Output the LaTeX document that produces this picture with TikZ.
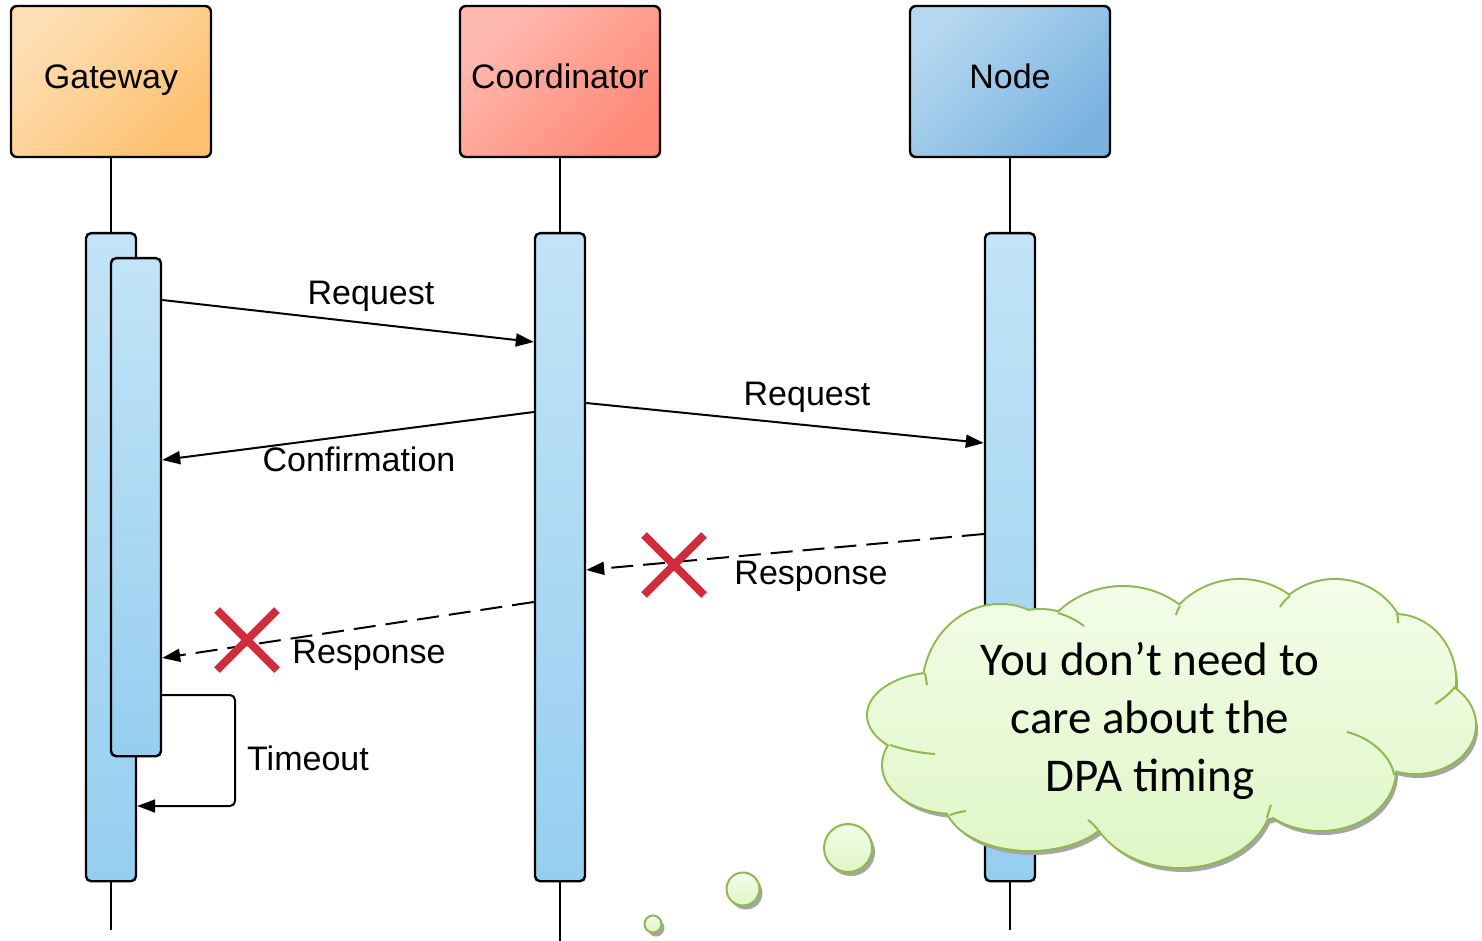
\documentclass[tikz,border=0pt]{standalone}
\usepackage{fontspec}
\setmainfont{Liberation Sans}
\newfontfamily\cloudfont{Carlito}
\usetikzlibrary{arrows.meta,shadows}

\definecolor{gwLight}{RGB}{254,223,180}
\definecolor{gwDark}{RGB}{253,192,112}
\definecolor{coLight}{RGB}{255,186,176}
\definecolor{coDark}{RGB}{255,137,120}
\definecolor{ndLight}{RGB}{182,215,240}
\definecolor{ndDark}{RGB}{122,179,224}
\definecolor{barTop}{RGB}{194,228,246}
\definecolor{barBot}{RGB}{150,206,240}
\definecolor{crossRed}{RGB}{208,44,62}
\definecolor{cloudLine}{RGB}{140,186,76}
\definecolor{cloudTop}{RGB}{244,253,234}
\definecolor{cloudBot}{RGB}{222,246,196}
\definecolor{cloudShadow}{RGB}{165,165,165}

% union of bumps forming the thought cloud
\def\cloudpath{
  (1000,690) ellipse [x radius=77,y radius=85]
  (1040,680) ellipse [x radius=70,y radius=70]
  (1123,681) ellipse [x radius=94,y radius=94]
  (1240,664) ellipse [x radius=84,y radius=84]
  (1335,650) ellipse [x radius=72,y radius=70]
  (1395,680) ellipse [x radius=60,y radius=65]
  (1415,725) ellipse [x radius=60,y radius=48]
  (1320,770) ellipse [x radius=75,y radius=60]
  (1180,795) ellipse [x radius=92,y radius=72]
  (1030,800) ellipse [x radius=85,y radius=50]
  (955,765)  ellipse [x radius=72,y radius=48]
  (940,715)  ellipse [x radius=72,y radius=42]
  (1165,720) ellipse [x radius=230,y radius=110]
}

\begin{document}
\begin{tikzpicture}[x=0.5pt,y=-0.5pt,
  head/.style={draw=black,line width=1.2pt,rounded corners=3pt,minimum width=100pt,
    minimum height=75.5pt,inner sep=0pt,text height=7.5pt,text depth=0pt,
    font=\fontsize{17}{20}\selectfont},
  bar/.style={draw=black,line width=1.2pt,rounded corners=2.5pt,minimum width=25pt,
    inner sep=0pt,anchor=north,top color=barTop,bottom color=barBot},
  life/.style={line width=1pt},
  msg/.style={line width=1pt,-{Triangle[length=9pt,width=6.5pt]}},
  reply/.style={msg,dash pattern=on 11pt off 5pt},
  lbl/.style={font=\fontsize{17}{20}\selectfont,inner sep=0pt,text height=12.4pt,text depth=0pt},
  cross/.style={draw=crossRed,line width=4pt},
  creaseline/.style={draw=cloudLine,line width=1pt},
  bubble/.style={circle,draw=cloudLine,line width=1pt,top color=cloudTop,
    bottom color=cloudBot,inner sep=0pt,
    drop shadow={shadow xshift=1.5pt,shadow yshift=-2pt,fill=cloudShadow,opacity=1}}
]
\useasboundingbox (0,0) rectangle (1482,941);

% participants
\node[head,top color=gwLight,bottom color=gwDark,shading angle=45] (gw) at (111,81.5) {Gateway};
\node[head,top color=coLight,bottom color=coDark,shading angle=45] (co) at (560,81.5) {Coordinator};
\node[head,top color=ndLight,bottom color=ndDark,shading angle=45] (nd) at (1010,81.5) {Node};

% lifeline ends
\coordinate (gwEnd) at (111,930);
\coordinate (coEnd) at (560,941);
\coordinate (ndEnd) at (1010,930);

% activation bars
\node[bar,minimum height=324pt] (gwo) at (111,232) {};
\node[bar,minimum height=249pt] (gwi) at (136,257) {};
\node[bar,minimum height=324pt] (cob) at (560,232) {};
\node[bar,minimum height=324pt] (ndb) at (1010,232) {};

% lifelines
\draw[life] (gw.south) -- (gwo.north);
\draw[life] (gwo.south) -- (gwEnd);
\draw[life] (co.south) -- (cob.north);
\draw[life] (cob.south) -- (coEnd);
\draw[life] (nd.south) -- (ndb.north);
\draw[life] (ndb.south) -- (ndEnd);

% messages
\draw[msg] (gwi.east |- 0,300) -- (cob.west |- 0,342);
\draw[msg] (cob.east |- 0,403) -- (ndb.west |- 0,443);
\draw[msg] (cob.west |- 0,412) -- (gwi.east |- 0,460);
\draw[reply] (ndb.west |- 0,534) -- (cob.east |- 0,570);
\draw[reply] (cob.west |- 0,602) -- (gwi.east |- 0,658);

% timeout self-message
\coordinate (toA) at (235,695);
\coordinate (toB) at (235,806);
\draw[msg,rounded corners=2.5pt] (gwi.east |- toA) -- (toA) -- (toB) -- (gwo.east |- toB);

% lost responses
\coordinate (lostA) at (674,565);
\coordinate (lostB) at (247,640);
\draw[cross] (lostA) ++(-30,-30) -- ++(60,60) (lostA) ++(30,-30) -- ++(-60,60);
\draw[cross] (lostB) ++(-30,-30) -- ++(60,60) (lostB) ++(30,-30) -- ++(-60,60);

% message labels
\node[lbl] (lReq1) at (371,292) {Request};
\node[lbl] (lReq2) at (807,393) {Request};
\node[lbl] (lConf) at (359,459) {Confirmation};
\node[lbl] (lResp1) at (811,572) {Response};
\node[lbl] (lResp2) at (369,651) {Response};
\node[lbl] (lTime) at (308,758) {Timeout};

% thought cloud
\fill[cloudShadow,shift={(3,5)}] \cloudpath;
\draw[cloudLine,line width=2pt] \cloudpath;
\begin{scope}
  \clip \cloudpath;
  \shade[top color=cloudTop,bottom color=cloudBot] (850,570) rectangle (1482,880);
\end{scope}
\draw[creaseline] (1058,613) .. controls (1068,616) and (1076,620) .. (1084,626);
\draw[creaseline] (1180,606) .. controls (1178,609) and (1177,611) .. (1176,615);
\draw[creaseline] (1290,596) .. controls (1286,599) and (1283,602) .. (1280,607);
\draw[creaseline] (1397,613) .. controls (1398,616) and (1398,619) .. (1398,623);
\draw[creaseline] (1455,687) .. controls (1449,694) and (1443,699) .. (1435,704);
\draw[creaseline] (1347,732) .. controls (1372,738) and (1392,758) .. (1394,775);
\draw[creaseline] (1267,818) .. controls (1268,814) and (1269,810) .. (1271,805);
\draw[creaseline] (1098,830) .. controls (1095,826) and (1092,823) .. (1088,820);
\draw[creaseline] (950,815) .. controls (955,813) and (960,812) .. (966,811);
\draw[creaseline] (890,745) .. controls (905,750) and (920,753) .. (935,754);
\draw[creaseline] (925,673) .. controls (926,677) and (926,680) .. (927,685);

\node[font=\cloudfont\fontsize{23.5}{29}\selectfont,align=center,inner sep=0pt] (note) at (1150,721)
  {You don’t need to\\care about the\\DPA timing};

% trailing bubbles
\node[bubble,minimum size=24pt] (b1) at (848,848) {};
\node[bubble,minimum size=16.5pt] (b2) at (743,889) {};
\node[bubble,minimum size=8.5pt] (b3) at (653,924) {};
\end{tikzpicture}
\end{document}
